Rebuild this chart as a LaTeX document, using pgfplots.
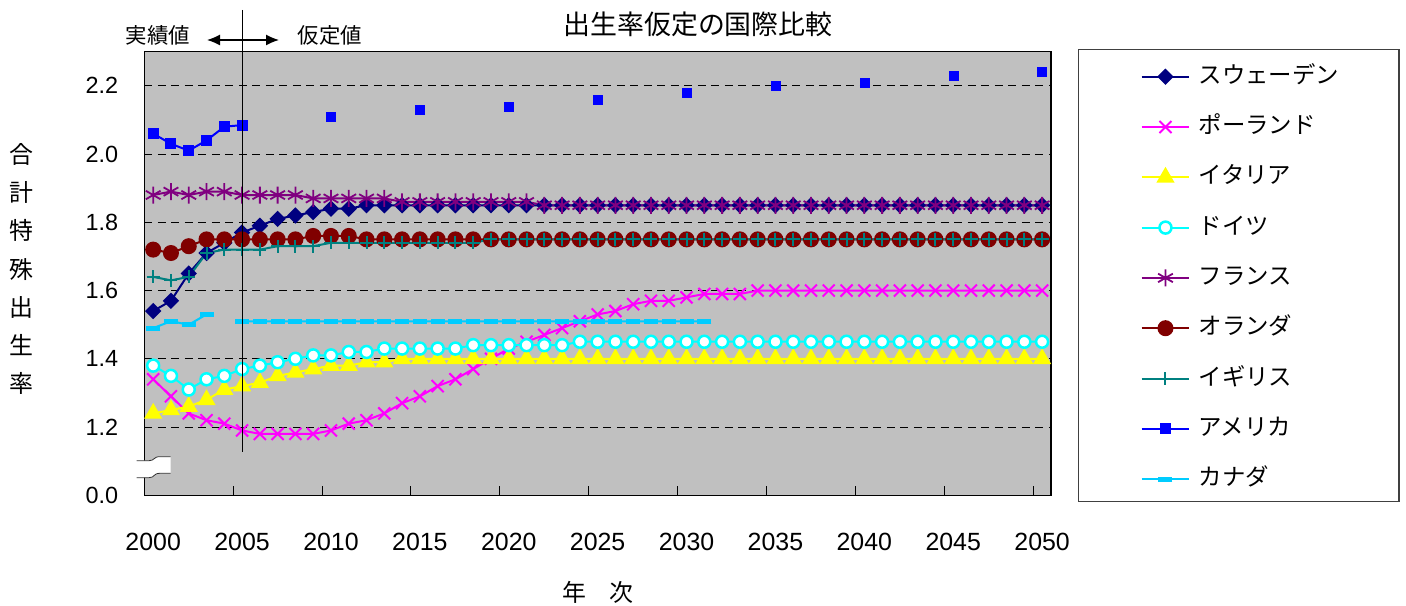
\documentclass[border=0pt]{standalone}
\usepackage{fontspec}
\setmainfont{Liberation Sans}
\newfontfamily\jp{Noto Sans CJK JP}
\usepackage{pgfplots}
\pgfplotsset{compat=1.18}
\usepackage{pgfplotstable}
\usetikzlibrary{arrows.meta}

\definecolor{plotbg}{RGB}{192,192,192}
\definecolor{swe}{RGB}{0,0,128}
\definecolor{pol}{RGB}{255,0,255}
\definecolor{ita}{RGB}{255,255,0}
\definecolor{deu}{RGB}{0,255,255}
\definecolor{fra}{RGB}{128,0,128}
\definecolor{nld}{RGB}{128,0,0}
\definecolor{gbr}{RGB}{0,128,128}
\definecolor{usa}{RGB}{0,0,255}
\definecolor{can}{RGB}{0,204,255}

% total fertility rate; usa = actual, usp = assumed (5-year steps)
\pgfplotstableread{
year swe  pol  ita  deu  fra  nld  gbr  usa   usp  can
2000 1.54 1.34 1.24 1.38 1.88 1.72 1.64 2.06  nan  1.49
2001 1.57 1.29 1.25 1.35 1.89 1.71 1.63 2.03  nan  1.51
2002 1.65 1.24 1.26 1.31 1.88 1.73 1.64 2.01  nan  1.50
2003 1.71 1.22 1.28 1.34 1.89 1.75 1.71 2.04  nan  1.53
2004 1.74 1.21 1.31 1.35 1.89 1.75 1.72 2.08  nan  nan
2005 1.77 1.19 1.32 1.37 1.88 1.75 1.72 2.085 nan  1.51
2006 1.79 1.18 1.33 1.38 1.88 1.75 1.72 nan   nan  1.51
2007 1.81 1.18 1.35 1.39 1.88 1.75 1.73 nan   nan  1.51
2008 1.82 1.18 1.36 1.40 1.88 1.75 1.73 nan   nan  1.51
2009 1.83 1.18 1.37 1.41 1.87 1.76 1.73 nan   nan  1.51
2010 1.84 1.19 1.38 1.41 1.87 1.76 1.74 nan   2.11 1.51
2011 1.84 1.21 1.38 1.42 1.87 1.76 1.74 nan   nan  1.51
2012 1.85 1.22 1.39 1.42 1.87 1.75 1.74 nan   nan  1.51
2013 1.85 1.24 1.39 1.43 1.87 1.75 1.74 nan   nan  1.51
2014 1.85 1.27 1.40 1.43 1.86 1.75 1.74 nan   nan  1.51
2015 1.85 1.29 1.40 1.43 1.86 1.75 1.74 nan   2.13 1.51
2016 1.85 1.32 1.40 1.43 1.86 1.75 1.74 nan   nan  1.51
2017 1.85 1.34 1.40 1.43 1.86 1.75 1.74 nan   nan  1.51
2018 1.85 1.37 1.40 1.44 1.86 1.75 1.74 nan   nan  1.51
2019 1.85 1.40 1.40 1.44 1.86 1.75 1.75 nan   nan  1.51
2020 1.85 1.43 1.40 1.44 1.86 1.75 1.75 nan   2.14 1.51
2021 1.85 1.45 1.40 1.44 1.86 1.75 1.75 nan   nan  1.51
2022 1.85 1.47 1.40 1.44 1.85 1.75 1.75 nan   nan  1.51
2023 1.85 1.49 1.40 1.44 1.85 1.75 1.75 nan   nan  1.51
2024 1.85 1.51 1.40 1.45 1.85 1.75 1.75 nan   nan  1.51
2025 1.85 1.53 1.40 1.45 1.85 1.75 1.75 nan   2.16 1.51
2026 1.85 1.54 1.40 1.45 1.85 1.75 1.75 nan   nan  1.51
2027 1.85 1.56 1.40 1.45 1.85 1.75 1.75 nan   nan  1.51
2028 1.85 1.57 1.40 1.45 1.85 1.75 1.75 nan   nan  1.51
2029 1.85 1.57 1.40 1.45 1.85 1.75 1.75 nan   nan  1.51
2030 1.85 1.58 1.40 1.45 1.85 1.75 1.75 nan   2.18 1.51
2031 1.85 1.59 1.40 1.45 1.85 1.75 1.75 nan   nan  1.51
2032 1.85 1.59 1.40 1.45 1.85 1.75 1.75 nan   nan  nan
2033 1.85 1.59 1.40 1.45 1.85 1.75 1.75 nan   nan  nan
2034 1.85 1.60 1.40 1.45 1.85 1.75 1.75 nan   nan  nan
2035 1.85 1.60 1.40 1.45 1.85 1.75 1.75 nan   2.20 nan
2036 1.85 1.60 1.40 1.45 1.85 1.75 1.75 nan   nan  nan
2037 1.85 1.60 1.40 1.45 1.85 1.75 1.75 nan   nan  nan
2038 1.85 1.60 1.40 1.45 1.85 1.75 1.75 nan   nan  nan
2039 1.85 1.60 1.40 1.45 1.85 1.75 1.75 nan   nan  nan
2040 1.85 1.60 1.40 1.45 1.85 1.75 1.75 nan   2.21 nan
2041 1.85 1.60 1.40 1.45 1.85 1.75 1.75 nan   nan  nan
2042 1.85 1.60 1.40 1.45 1.85 1.75 1.75 nan   nan  nan
2043 1.85 1.60 1.40 1.45 1.85 1.75 1.75 nan   nan  nan
2044 1.85 1.60 1.40 1.45 1.85 1.75 1.75 nan   nan  nan
2045 1.85 1.60 1.40 1.45 1.85 1.75 1.75 nan   2.23 nan
2046 1.85 1.60 1.40 1.45 1.85 1.75 1.75 nan   nan  nan
2047 1.85 1.60 1.40 1.45 1.85 1.75 1.75 nan   nan  nan
2048 1.85 1.60 1.40 1.45 1.85 1.75 1.75 nan   nan  nan
2049 1.85 1.60 1.40 1.45 1.85 1.75 1.75 nan   nan  nan
2050 1.85 1.60 1.40 1.45 1.85 1.75 1.75 nan   2.24 nan
}\tfr

\begin{document}
\begin{tikzpicture}
\useasboundingbox (0,0) rectangle (1406bp,606bp);
\begin{axis}[
    at={(144.3bp,110.7bp)}, anchor=south west,
    scale only axis, width=906.7bp, height=443.6bp,
    xmin=1999.5, xmax=2050.5, ymin=1, ymax=2.3,
    clip=false,
    unbounded coords=jump,
    axis background/.style={fill=plotbg},
    axis line style={black, line width=1.3bp},
    xtick={1999.5,2004.5,...,2049.5},
    xticklabels={2000,2005,2010,2015,2020,2025,2030,2035,2040,2045,2050},
    xtick pos=left, tick align=inside, major tick length=9bp,
    xtick style={black, line width=1bp},
    ytick={1,1.2,1.4,1.6,1.8,2,2.2},
    yticklabels={0.0,1.2,1.4,1.6,1.8,2.0,2.2},
    ytick pos=left, ytick style={draw=none},
    ymajorgrids=true,
    major grid style={black, line width=1bp, dash pattern=on 8bp off 5.5bp},
    /pgf/number format/assume math mode=true,
    xticklabel style={font=\fontsize{25}{30}\selectfont, anchor=base, inner sep=0pt, yshift=-55bp, xshift=8.89bp},
    yticklabel style={font=\fontsize{23.5}{28}\selectfont, anchor=east, inner sep=0pt, xshift=-26bp},
    title={出生率仮定の国際比較},
    every axis title/.style={at={(rel axis cs:0.6107,1.0625)}, anchor=center, font=\jp\fontsize{27}{32}\selectfont},
    xlabel={年　次},
    every axis x label/.style={at={(rel axis cs:0.5004,-0.218)}, anchor=center, font=\jp\fontsize{24}{28}\selectfont},
    ylabel={合\\計\\特\\殊\\出\\生\\率},
    every axis y label/.style={at={(rel axis cs:-0.136,0.510)}, anchor=center, align=center, font=\jp\fontsize{24}{38.3}\selectfont},
    legend cell align=left,
    legend style={draw=none, fill=none, at={(rel axis cs:1.0989,0.9718)}, anchor=north west,
        inner sep=0pt, outer sep=0pt, row sep=25.3bp, column sep=8.4bp,
        font=\jp\fontsize{23.5}{28}\selectfont,
        nodes={inner sep=0pt, text height=19bp, text depth=6bp}},
    legend image code/.code={\draw[mark repeat=2,mark phase=2,#1] plot coordinates {(0bp,0bp) (23.8bp,0bp) (47.6bp,0bp)};},
]
\addplot[color=swe, line width=2bp, mark=square*, mark size=4.8bp, mark options={rotate=45, solid, fill=swe}] table[x=year, y=swe] {\tfr};
\addplot[color=pol, line width=2bp, mark=x, mark size=8.5bp, mark options={line width=2bp}] table[x=year, y=pol] {\tfr};
\addplot[color=ita, line width=2bp, mark=triangle*, mark size=8.5bp] table[x=year, y=ita] {\tfr};
\addplot[color=deu, line width=2bp, mark=*, mark size=6bp, mark options={fill=white, draw=deu, line width=2.5bp}] table[x=year, y=deu] {\tfr};
\addplot[color=fra, line width=2bp, mark=asterisk, mark size=8.5bp, mark options={line width=1.8bp}] table[x=year, y=fra] {\tfr};
\addplot[color=nld, line width=2bp, mark=*, mark size=7bp] table[x=year, y=nld] {\tfr};
\addplot[color=gbr, line width=2bp, mark=+, mark size=6.5bp, mark options={line width=2bp}] table[x=year, y=gbr] {\tfr};
\addplot[color=usa, line width=2bp, mark=square*, mark size=4.5bp] table[x=year, y=usa] {\tfr};
\addplot[forget plot, only marks, color=usa, mark=square*, mark size=4.5bp] table[x=year, y=usp] {\tfr};
\addplot[color=can, line width=2bp, mark=-, mark size=7bp, mark options={line width=5bp}] table[x=year, y=can] {\tfr};
\legend{スウェーデン,ポーランド,イタリア,ドイツ,フランス,オランダ,イギリス,アメリカ,カナダ}
\end{axis}
\begin{scope}[shift={(0,606bp)}, x=1bp, y=-1bp]
  % axis break mark
  \fill[white] (136.7,460.7) -- (149,460.7) .. controls (155,460.7) and (153,456.7) .. (160,456.7) -- (170.7,456.7)
     -- (170.7,473.3) -- (160,473.3) .. controls (153,473.3) and (155,477.7) .. (149,477.7) -- (136.7,477.7) -- cycle;
  \draw[black!80, line width=0.8bp] (136.7,460.7) -- (149,460.7) .. controls (155,460.7) and (153,456.7) .. (160,456.7) -- (170.7,456.7);
  \draw[black!80, line width=0.8bp] (136.7,477.7) -- (149,477.7) .. controls (155,477.7) and (153,473.3) .. (160,473.3) -- (170.7,473.3);
  % actual / assumed divider
  \draw[black, line width=1.5bp] (242.3,10) -- (242.3,452);
  \draw[{Latex[length=13bp,width=11bp]}-{Latex[length=13bp,width=11bp]}, line width=1.3bp] (207,40) -- (279,40);
  \node[font=\jp\fontsize{21.5}{24}\selectfont] at (158,35) {実績値};
  \node[font=\jp\fontsize{21.5}{24}\selectfont] at (330,35) {仮定値};
  % legend frame
  \draw[black!75, line width=1.3bp] (1078.3,49.3) rectangle (1399,501.7);
\end{scope}
\end{tikzpicture}
\end{document}
